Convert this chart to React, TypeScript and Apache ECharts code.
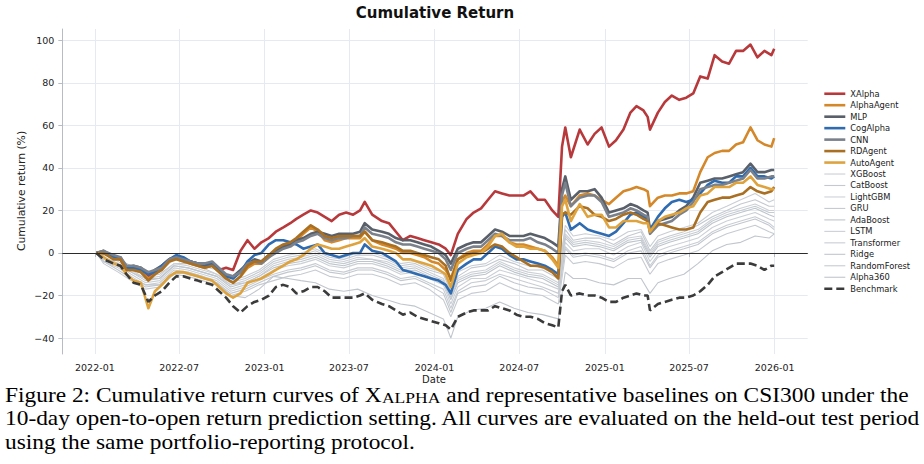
import React, { useEffect, useRef } from "react";
import * as echarts from "echarts";

// ---------- data ----------
const DATES = [
  "2022-01-04","2022-01-20","2022-02-10","2022-02-25","2022-03-10","2022-03-25","2022-04-10","2022-04-26","2022-05-10","2022-05-25","2022-06-10","2022-06-25","2022-07-10","2022-07-25","2022-08-10","2022-08-25","2022-09-10","2022-09-25","2022-10-10","2022-10-25","2022-11-10","2022-11-25","2022-12-10","2022-12-25",
  "2023-01-10","2023-01-25","2023-02-10","2023-02-25","2023-03-10","2023-03-25","2023-04-10","2023-04-25","2023-05-10","2023-05-25","2023-06-10","2023-06-25","2023-07-10","2023-07-25","2023-08-04","2023-08-20","2023-09-10","2023-09-25","2023-10-10","2023-10-25","2023-11-10","2023-11-25","2023-12-10","2023-12-25",
  "2024-01-10","2024-01-25","2024-02-05","2024-02-20","2024-03-10","2024-03-25","2024-04-10","2024-04-25","2024-05-10","2024-05-25","2024-06-10","2024-06-25","2024-07-10","2024-07-25","2024-08-10","2024-08-25","2024-09-10","2024-09-23","2024-10-01","2024-10-08","2024-10-20","2024-11-08","2024-11-25","2024-12-10","2024-12-25",
  "2025-01-10","2025-01-25","2025-02-10","2025-02-25","2025-03-10","2025-03-25","2025-04-03","2025-04-08","2025-04-25","2025-05-10","2025-05-25","2025-06-10","2025-06-25","2025-07-10","2025-07-25","2025-08-10","2025-08-25","2025-09-10","2025-09-25","2025-10-10","2025-10-25","2025-11-10","2025-11-25","2025-12-10","2025-12-25","2025-12-31",
];

const XALPHA = [
  0, 0, -2, -3, -8, -7, -8, -11, -9, -6, -3, -2, -3, -4, -5, -6, -6, -8, -7, -8, 1, 6, 2, 5,
  7, 10, 12, 14, 16, 18, 20, 19, 17, 15, 18, 19, 18, 20, 24, 18, 15, 14, 10, 6, 8, 7, 6, 5,
  4, 2, -1, 9, 16, 19, 21, 25, 29, 28, 27, 27, 27, 29, 25, 25, 20, 17, 50, 59, 45, 58, 51, 56, 59,
  50, 53, 58, 66, 69, 67, 64, 58, 66, 71, 74, 72, 73, 75, 83, 82, 93, 90, 89, 95, 95, 98, 92, 95, 93, 96,
];
const ALPHAAGENT = [
  0, 0, -2, -3, -8, -8, -9, -12, -10, -7, -3, -2, -3, -5, -6, -7, -6, -9, -12, -14, -11, -7, -5, -5,
  -2, 1, 3, 4, 6, 9, 12, 10, 6, 5, 6, 7, 7, 7, 10, 6, 4, 3, 2, 0, 0, -1, -2, -4,
  -5, -8, -12, -3, 0, 1, 1, 4, 8, 8, 5, 4, 4, 3, 2, 1, -2, -6, 24, 27, 22, 27, 28, 27, 25,
  23, 26, 29, 30, 31, 30, 29, 22, 26, 27, 27, 28, 28, 29, 38, 45, 47, 48, 48, 51, 52, 59, 53, 51, 50, 54,
];
const MLP = [
  0, 1, -2, -2, -7, -6, -7, -10, -8, -6, -3, -2, -3, -4, -5, -6, -5, -8, -11, -11, -8, -5, -3, -4,
  -1, 1, 3, 4, 6, 7, 9, 10, 9, 8, 9, 9, 9, 10, 14, 11, 10, 9, 7, 6, 6, 5, 4, 3,
  1, -1, -5, 2, 4, 5, 5, 8, 11, 10, 8, 8, 8, 9, 8, 7, 5, 3, 30, 36, 25, 29, 29, 30, 26,
  19, 20, 21, 23, 22, 20, 19, 11, 15, 16, 17, 20, 22, 26, 33, 34, 35, 35, 36, 37, 38, 42, 38, 38, 39, 39,
];
const COGALPHA = [
  0, 0, -2, -3, -7, -7, -8, -10, -9, -6, -3, -1, -2, -4, -5, -5, -5, -8, -11, -12, -9, -4, -1, 0,
  4, 6, 6, 5, 4, 2, 3, 4, 0, -1, -2, -1, 0, 0, 4, 1, 0, -2, -4, -8, -9, -10, -11, -12,
  -13, -15, -19, -8, -5, -3, -3, 0, 3, 2, -1, -3, -3, -4, -5, -6, -8, -10, 17, 19, 11, 14, 11, 10, 9,
  8, 10, 14, 18, 19, 17, 16, 11, 17, 21, 24, 25, 24, 25, 28, 32, 34, 33, 33, 36, 36, 40, 36, 36, 35, 36,
];
const CNN = [
  0, 1, -1, -2, -6, -6, -7, -9, -8, -7, -3, -2, -3, -4, -5, -5, -4, -7, -10, -11, -9, -5, -4, -5,
  -2, 0, 2, 3, 5, 6, 8, 9, 7, 6, 7, 7, 8, 8, 12, 9, 8, 7, 5, 4, 4, 3, 2, 1,
  0, -3, -8, 0, 2, 3, 3, 6, 9, 8, 6, 6, 6, 7, 5, 4, 2, 0, 27, 33, 22, 26, 27, 27, 24,
  17, 18, 19, 21, 20, 18, 17, 9, 13, 14, 15, 18, 20, 24, 30, 31, 32, 32, 33, 34, 35, 39, 35, 35, 36, 36,
];
const RDAGENT = [
  0, 0, -3, -3, -8, -8, -9, -13, -10, -8, -4, -3, -4, -5, -6, -7, -6, -9, -12, -14, -11, -6, -4, -4,
  -1, 2, 4, 5, 7, 10, 13, 11, 8, 7, 8, 8, 8, 8, 10, 6, 5, 4, 3, 1, 1, 0, -1, -2,
  -3, -6, -13, -3, -1, 0, 0, 2, 4, 3, 0, -2, -4, -6, -6, -7, -9, -12, 18, 19, 18, 22, 21, 18, 17,
  15, 16, 18, 19, 18, 16, 15, 10, 14, 13, 12, 11, 11, 12, 19, 24, 25, 26, 26, 27, 28, 31, 29, 28, 29, 31,
];
const AUTOAGENT = [
  0, -2, -5, -6, -10, -13, -14, -26, -18, -15, -11, -9, -9, -10, -11, -12, -13, -16, -19, -21, -19, -14, -13, -12,
  -10, -8, -6, -4, -3, -1, 2, 4, 3, 2, 2, 3, 4, 5, 7, 3, 2, 1, 0, -3, -3, -4, -5, -6,
  -8, -10, -16, -5, -2, -1, 0, 3, 8, 9, 5, 3, 3, 2, 2, 1, -3, -7, 22, 25, 15, 23, 17, 18, 18,
  12, 12, 15, 15, 15, 14, 14, 10, 15, 17, 18, 19, 21, 22, 27, 28, 31, 31, 31, 33, 33, 36, 32, 31, 30, 30,
];
const BENCHMARK = [
  0, -3, -5, -6, -10, -14, -15, -23, -20, -18, -14, -11, -11, -12, -13, -14, -15, -18, -21, -25, -28, -25, -23, -22,
  -20, -16, -15, -16, -19, -18, -16, -16, -18, -21, -21, -21, -21, -20, -19, -22, -24, -25, -27, -29, -28, -30, -31, -32,
  -33, -34, -36, -30, -28, -27, -27, -27, -25, -26, -27, -29, -30, -30, -31, -33, -34, -35, -18, -15, -20, -19, -20, -20, -21,
  -23, -23, -21, -20, -19, -20, -20, -27, -24, -23, -22, -21, -21, -20, -18, -15, -11, -9, -7, -5, -5, -5, -6, -8, -6, -6,
];

const GRAY_DATES = [
  "2022-01-04","2022-01-20","2022-02-20","2022-03-20","2022-04-20","2022-05-20","2022-06-20","2022-07-20","2022-08-20","2022-09-20","2022-10-20","2022-11-20","2022-12-20",
  "2023-01-20","2023-02-20","2023-03-20","2023-04-20","2023-05-20","2023-06-20","2023-07-20","2023-08-20","2023-09-20","2023-10-20","2023-11-20","2023-12-20",
  "2024-01-20","2024-02-05","2024-02-20","2024-03-20","2024-04-20","2024-05-20","2024-06-20","2024-07-20","2024-08-20","2024-09-23","2024-10-08","2024-10-25","2024-11-20","2024-12-20",
  "2025-01-20","2025-02-20","2025-03-20","2025-04-08","2025-04-25","2025-05-20","2025-06-20","2025-07-20","2025-08-20","2025-09-20","2025-10-20","2025-11-20","2025-12-20","2025-12-31",
];
const XGBOOST = [0,0,-3,-6,-10,-9,-3,-4,-6,-8,-13,-11,-8, -3,-1,0,2,-1,-2,0,0,-2,-5,-4,-7, -9,-17,-9,-6,-5,-1,-4,-6,-7,-11,13,8,9,8, 6,10,11,3,8,10,12,14,19,22,25,28,24,25];
const CATBOOST = [0,-1,-3,-7,-11,-10,-5,-5,-7,-10,-14,-12,-9, -4,-2,-1,1,-2,-3,-1,-1,-3,-6,-5,-8, -10,-18,-11,-7,-6,-3,-5,-8,-8,-12,11,6,7,7, 4,8,10,1,6,8,10,13,17,20,23,25,22,22];
const LIGHTGBM = [0,-1,-4,-8,-12,-11,-5,-6,-8,-10,-15,-13,-10, -5,-3,-2,0,-3,-4,-2,-3,-4,-7,-6,-9, -12,-20,-12,-9,-8,-4,-7,-9,-10,-14,9,5,6,5, 3,7,8,0,5,7,9,11,16,19,21,23,20,20];
const GRU = [0,-2,-5,-9,-12,-12,-6,-7,-9,-11,-15,-14,-11, -6,-4,-3,-1,-4,-5,-3,-3,-5,-8,-7,-10, -13,-21,-13,-10,-9,-5,-8,-10,-11,-15,8,4,5,4, 2,6,7,-1,4,6,8,10,15,18,20,22,19,19];
const ADABOOST = [0,-2,-5,-9,-13,-12,-6,-7,-9,-11,-16,-14,-11, -7,-5,-4,-2,-5,-6,-4,-4,-6,-9,-8,-11, -14,-22,-14,-11,-10,-6,-9,-11,-12,-16,7,3,4,3, 1,5,6,-2,3,5,7,9,14,17,19,21,18,17];
const LSTM = [0,-3,-6,-10,-14,-13,-7,-8,-10,-12,-17,-15,-12, -8,-6,-5,-3,-6,-7,-5,-5,-7,-10,-9,-12, -15,-24,-16,-12,-12,-8,-10,-12,-14,-17,5,1,2,2, -1,3,5,-4,1,3,5,7,12,15,17,19,16,15];
const TRANSFORMER = [0,-4,-7,-11,-15,-14,-8,-9,-11,-13,-18,-16,-13, -10,-8,-7,-5,-8,-9,-7,-7,-9,-12,-11,-14, -17,-26,-18,-14,-13,-10,-12,-14,-16,-19,3,-1,0,-1, -3,1,3,-6,-1,1,3,5,10,13,15,17,14,12];
const RIDGE = [0,-4,-8,-12,-16,-15,-9,-10,-12,-14,-19,-17,-14, -11,-9,-8,-6,-9,-10,-8,-8,-10,-13,-12,-15, -19,-28,-19,-16,-15,-11,-14,-16,-17,-21,2,-2,-1,-2, -4,0,1,-7,-2,0,2,4,9,12,14,16,13,11];
const RANDOMFOREST = [0,-5,-9,-13,-17,-16,-10,-11,-13,-15,-20,-18,-15, -13,-11,-10,-8,-11,-12,-10,-10,-12,-15,-14,-17, -22,-30,-22,-19,-18,-14,-17,-19,-20,-24,-1,-5,-4,-5, -7,-3,-2,-10,-5,-3,-1,1,6,9,11,13,10,9];
const ALPHA360 = [0,-3,-6,-12,-15,-15,-10,-9,-11,-14,-20,-21,-17, -11,-12,-13,-14,-17,-18,-17,-20,-22,-24,-25,-28, -31,-40,-30,-27,-26,-23,-26,-28,-29,-31,-9,-12,-12,-14, -15,-12,-12,-19,-14,-12,-10,-5,1,4,5,8,7,9];

const X_TICKS = ["2022-01-01","2022-07-01","2023-01-01","2023-07-01","2024-01-01","2024-07-01","2025-01-01","2025-07-01","2026-01-01"];
const Y_TICKS = [-40, -20, 0, 20, 40, 60, 80, 100];

const LEGEND_ORDER = ["XAlpha","AlphaAgent","MLP","CogAlpha","CNN","RDAgent","AutoAgent","XGBoost","CatBoost","LightGBM","GRU","AdaBoost","LSTM","Transformer","Ridge","RandomForest","Alpha360","Benchmark"];
const THIN_LEGEND = ["XGBoost","CatBoost","LightGBM","GRU","AdaBoost","LSTM","Transformer","Ridge","RandomForest","Alpha360"];

const ts = (s: string) => new Date(s + "T00:00:00").getTime();

export default function App() {
  const ref = useRef<HTMLDivElement>(null);
  useEffect(() => {
    if (!ref.current) return;
    const chart = echarts.init(ref.current, null, { renderer: "svg" });

    const grays = [
      { name: "XGBoost", values: XGBOOST, color: "#c9ced5" },
      { name: "CatBoost", values: CATBOOST, color: "#c4c9d0" },
      { name: "LightGBM", values: LIGHTGBM, color: "#cdd1d7" },
      { name: "GRU", values: GRU, color: "#c6cbd2" },
      { name: "AdaBoost", values: ADABOOST, color: "#bfc5cc" },
      { name: "LSTM", values: LSTM, color: "#cbd0d6" },
      { name: "Transformer", values: TRANSFORMER, color: "#c8ccd3" },
      { name: "Ridge", values: RIDGE, color: "#c2c7ce" },
      { name: "RandomForest", values: RANDOMFOREST, color: "#c6cbd1" },
      { name: "Alpha360", values: ALPHA360, color: "#c0c6cd" },
    ];
    const mains = [
      { name: "XAlpha", values: XALPHA, color: "#b8393b" },
      { name: "AlphaAgent", values: ALPHAAGENT, color: "#d4882a" },
      { name: "MLP", values: MLP, color: "#59606a" },
      { name: "CogAlpha", values: COGALPHA, color: "#2f6bb0" },
      { name: "CNN", values: CNN, color: "#7a818b" },
      { name: "RDAgent", values: RDAGENT, color: "#a96f22" },
      { name: "AutoAgent", values: AUTOAGENT, color: "#dea33d" },
    ];

    const series: any[] = [];
    grays.forEach((g, gi) => {
      series.push({
        name: g.name,
        type: "line",
        symbol: "none",
        showSymbol: false,
        silent: true,
        lineStyle: { color: g.color, width: 1.1 },
        itemStyle: { color: g.color },
        emphasis: { disabled: true },
        data: GRAY_DATES.map((d, i) => [ts(d), g.values[i]]),
        markLine:
          gi === 0
            ? {
                silent: true,
                symbol: ["none", "none"],
                label: { show: false },
                lineStyle: { color: "#2b2b2b", width: 1.2, type: "solid" },
                data: [{ yAxis: 0 }],
              }
            : undefined,
      });
    });
    mains.forEach((m) => {
      series.push({
        name: m.name,
        type: "line",
        symbol: "none",
        showSymbol: false,
        silent: true,
        lineStyle: { color: m.color, width: 2.6, join: "round" },
        itemStyle: { color: m.color },
        emphasis: { disabled: true },
        data: DATES.map((d, i) => [ts(d), m.values[i]]),
      });
    });
    series.push({
      name: "Benchmark",
      type: "line",
      symbol: "none",
      showSymbol: false,
      silent: true,
      lineStyle: { color: "#3b3b3b", width: 2.6, type: [8, 4] },
      itemStyle: { color: "#3b3b3b" },
      emphasis: { disabled: true },
      data: DATES.map((d, i) => [ts(d), BENCHMARK[i]]),
    });

    const xTickVals = X_TICKS.map(ts);
    const axisColor = "#b5bcc6";
    const captionX = 1.17;
    const option: any = {
      animation: false,
      backgroundColor: "#ffffff",
      grid: { left: 62.3, right: 116.3, top: 29, bottom: 110, containLabel: false },
      xAxis: {
        type: "value",
        min: ts("2021-10-23"),
        max: ts("2026-03-13"),
        axisLine: { show: true, lineStyle: { color: axisColor, width: 1 } },
        axisTick: { show: true, length: 4, lineStyle: { color: axisColor }, customValues: xTickVals },
        axisLabel: {
          customValues: xTickVals,
          margin: 8,
          color: "#222",
          fontFamily: "DejaVu Sans",
          fontSize: 9.5,
          formatter: (v: number) => {
            const d = new Date(v);
            return d.getFullYear() + "-" + String(d.getMonth() + 1).padStart(2, "0");
          },
        },
        splitLine: { show: true, lineStyle: { color: "#e6e9ef", width: 1 } },
      },
      yAxis: {
        type: "value",
        min: -47.5,
        max: 105.3,
        axisLine: { show: true, lineStyle: { color: axisColor, width: 1 } },
        axisTick: { show: true, length: 4, lineStyle: { color: axisColor }, customValues: Y_TICKS },
        axisLabel: {
          customValues: Y_TICKS,
          margin: 8,
          color: "#222",
          fontFamily: "DejaVu Sans",
          fontSize: 9.5,
          formatter: (v: number) => (v < 0 ? "\u2212" + String(-v) : String(v)),
        },
        splitLine: { show: true, lineStyle: { color: "#e6e9ef", width: 1 } },
      },
      legend: {
        orient: "vertical",
        left: 818,
        top: 83,
        itemWidth: 21,
        itemHeight: 8,
        itemGap: 0,
        selectedMode: false,
        itemStyle: { opacity: 0, borderWidth: 0 },
        data: LEGEND_ORDER.map((n) => ({
          name: n,
          lineStyle: { width: THIN_LEGEND.indexOf(n) >= 0 ? 1.1 : 2.6 },
        })),
        textStyle: { fontFamily: "DejaVu Sans", fontSize: 8.3, color: "#1a1a1a", lineHeight: 11.47 },
      },
      graphic: [
        {
          type: "text",
          x: 435,
          y: 13,
          style: {
            text: "Cumulative Return",
            fontFamily: "DejaVu Sans",
            fontWeight: "bold",
            fontSize: 15,
            fill: "#111",
            textAlign: "center",
            textVerticalAlign: "middle",
            align: "center",
            verticalAlign: "middle",
          },
        },
        {
          type: "text",
          x: 21,
          y: 191,
          rotation: Math.PI / 2,
          style: {
            text: "Cumulative return (%)",
            fontFamily: "DejaVu Sans",
            fontSize: 10.8,
            fill: "#222",
            textAlign: "center",
            textVerticalAlign: "middle",
            align: "center",
            verticalAlign: "middle",
          },
        },
        {
          type: "text",
          x: 434,
          y: 379,
          style: {
            text: "Date",
            fontFamily: "DejaVu Sans",
            fontSize: 10,
            fill: "#222",
            textAlign: "center",
            textVerticalAlign: "middle",
            align: "center",
            verticalAlign: "middle",
          },
        },
        {
          type: "text",
          x: 5,
          y: 395.5,
          scaleX: captionX,
          style: {
            text: "{n|Figure 2: Cumulative return curves of X}{s|ALPHA}{n| and representative baselines on CSI300 under the}",
            rich: {
              n: { fontFamily: "Liberation Serif", fontSize: 20, fill: "#000", verticalAlign: "bottom" },
              s: { fontFamily: "Liberation Serif", fontSize: 15, fill: "#000", verticalAlign: "bottom" },
            },
            textAlign: "left",
            textVerticalAlign: "middle",
            align: "left",
            verticalAlign: "middle",
          },
        },
        {
          type: "text",
          x: 5,
          y: 419,
          scaleX: captionX,
          style: {
            text: "10-day open-to-open return prediction setting. All curves are evaluated on the held-out test period",
            fontFamily: "Liberation Serif",
            fontSize: 20,
            fill: "#000",
            textAlign: "left",
            textVerticalAlign: "middle",
            align: "left",
            verticalAlign: "middle",
          },
        },
        {
          type: "text",
          x: 5,
          y: 442.5,
          scaleX: captionX,
          style: {
            text: "using the same portfolio-reporting protocol.",
            fontFamily: "Liberation Serif",
            fontSize: 20,
            fill: "#000",
            textAlign: "left",
            textVerticalAlign: "middle",
            align: "left",
            verticalAlign: "middle",
          },
        },
      ],
      series,
    };
    chart.setOption(option);
    return () => chart.dispose();
  }, []);
  return (
    <div
      ref={ref}
      style={{ position: "absolute", left: 0, top: 0, width: 924, height: 464, background: "#fff" }}
    />
  );
}
